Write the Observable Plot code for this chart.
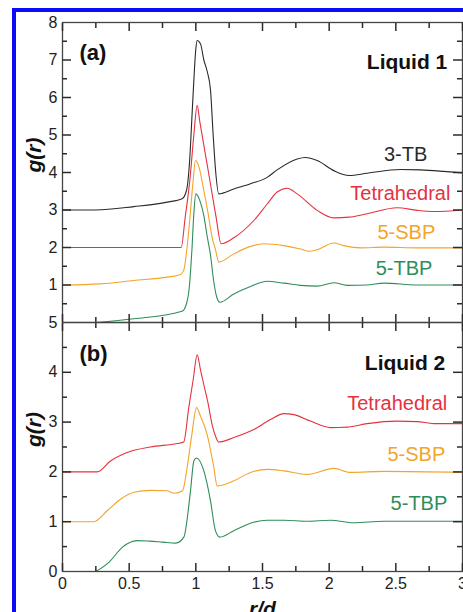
<!DOCTYPE html>
<html><head><meta charset="utf-8">
<script src="https://cdn.jsdelivr.net/npm/d3@7"></script>
<script src="https://cdn.jsdelivr.net/npm/@observablehq/plot@0.6"></script>
<style>
html,body{margin:0;padding:0;background:#fff}
#wrap{position:relative;width:463px;height:612px;overflow:hidden;background:#fff}
#wrap svg{position:absolute;left:0}
#blue{position:absolute;left:12px;top:8px;width:470px;height:620px;border-left:4px solid #0b0bf5;border-top:4px solid #0b0bf5;pointer-events:none}
</style></head><body><div id="wrap"></div>
<script>
// ---- tick values ----
const xTickLabels = [0, 0.5, 1, 1.5, 2, 2.5, 3];
const xMinorTicks = [0.25, 0.75, 1.25, 1.75, 2.25, 2.75];
const yTickLabelsA = [1, 2, 3, 4, 5, 6, 7, 8];
const yMajorA = [1, 2, 3, 4, 5, 6, 7];
const yMinorA = [0.5, 1.5, 2.5, 3.5, 4.5, 5.5, 6.5, 7.5];
const yTickLabelsB = [0, 1, 2, 3, 4, 5];
const yMajorB = [1, 2, 3, 4];
const yMinorB = [0.5, 1.5, 2.5, 3.5, 4.5];
const seriesNames = ["3-TB", "Tetrahedral", "5-SBP", "5-TBP"];

// ---- Panel (a): Liquid 1 ----
const a3tbR = [0, 0.25, 0.535, 0.785, 0.897, 0.93, 0.955, 0.972, 0.985, 1.0, 1.01, 1.035, 1.06, 1.085, 1.11, 1.13, 1.147, 1.172, 1.285, 1.41, 1.535, 1.61, 1.76, 1.82, 1.91, 2.035, 2.15, 2.285, 2.535, 2.685, 2.86, 3.0];
const a3tbG = [3.0, 3.0, 3.09, 3.21, 3.3, 3.52, 4.4, 5.57, 6.45, 7.3, 7.52, 7.43, 7.0, 6.7, 6.2, 5.0, 4.1, 3.43, 3.56, 3.7, 3.87, 4.07, 4.36, 4.40, 4.32, 4.05, 3.92, 3.98, 4.08, 4.07, 4.03, 3.99];
const aTetR = [0, 0.89, 0.92, 0.955, 0.985, 1.01, 1.03, 1.10, 1.15, 1.19, 1.285, 1.435, 1.535, 1.61, 1.685, 1.76, 1.91, 2.035, 2.15, 2.285, 2.51, 2.66, 2.785, 3.0];
const aTetG = [2.0, 2.0, 2.8, 3.79, 5.0, 5.79, 5.35, 3.9, 2.85, 2.1, 2.26, 2.72, 3.16, 3.48, 3.58, 3.43, 2.99, 2.79, 2.81, 2.9, 3.06, 2.99, 2.96, 3.0];
const aSbpR = [0, 0.285, 0.535, 0.785, 0.885, 0.909, 0.947, 0.98, 0.997, 1.02, 1.06, 1.09, 1.122, 1.147, 1.172, 1.285, 1.41, 1.51, 1.66, 1.785, 1.85, 1.91, 2.035, 2.11, 2.235, 2.41, 2.66, 3.0];
const aSbpG = [1.0, 1.03, 1.12, 1.21, 1.28, 1.39, 2.45, 3.79, 4.32, 4.19, 3.52, 2.95, 2.27, 1.95, 1.61, 1.83, 2.03, 2.1, 2.05, 1.96, 1.9, 1.94, 2.12, 2.05, 1.99, 2.01, 1.99, 1.99];
const aTbpR = [0.25, 0.535, 0.897, 0.93, 0.95, 0.97, 0.985, 1.0, 1.03, 1.06, 1.085, 1.11, 1.134, 1.155, 1.18, 1.285, 1.41, 1.535, 1.66, 1.785, 1.91, 2.035, 2.135, 2.285, 2.41, 2.66, 3.0];
const aTbpG = [0, 0.1, 0.3, 0.5, 0.9, 1.9, 2.9, 3.43, 3.25, 2.85, 2.3, 1.8, 1.1, 0.7, 0.54, 0.76, 0.96, 1.1, 1.05, 0.99, 0.97, 1.06, 0.99, 1.0, 1.05, 1.0, 1.0];

// ---- Panel (b): Liquid 2 ----
const bTetR = [0, 0.26, 0.36, 0.485, 0.66, 0.86, 0.909, 0.947, 0.98, 1.01, 1.035, 1.06, 1.09, 1.122, 1.15, 1.172, 1.285, 1.435, 1.56, 1.66, 1.735, 1.86, 2.01, 2.135, 2.285, 2.51, 2.66, 2.785, 3.0];
const bTetG = [2.0, 2.0, 2.22, 2.39, 2.5, 2.57, 2.6, 3.29, 3.85, 4.35, 4.05, 3.75, 3.4, 2.95, 2.7, 2.6, 2.69, 2.85, 3.05, 3.17, 3.15, 3.02, 2.89, 2.9, 2.97, 3.02, 3.01, 2.97, 2.97];
const bSbpR = [0, 0.235, 0.335, 0.435, 0.535, 0.66, 0.785, 0.835, 0.9, 0.935, 0.97, 1.005, 1.035, 1.085, 1.135, 1.16, 1.285, 1.41, 1.535, 1.66, 1.835, 2.035, 2.16, 2.41, 3.0];
const bSbpG = [1.0, 1.0, 1.22, 1.45, 1.59, 1.63, 1.62, 1.57, 1.62, 2.09, 2.75, 3.29, 3.12, 2.75, 2.09, 1.72, 1.82, 1.99, 2.05, 2.02, 1.95, 2.07, 1.99, 2.01, 1.99];
const bTbpR = [0.25, 0.35, 0.45, 0.56, 0.65, 0.75, 0.85, 0.91, 0.96, 0.985, 1.005, 1.06, 1.11, 1.147, 1.18, 1.285, 1.435, 1.535, 1.66, 1.835, 2.01, 2.185, 2.41, 3.0];
const bTbpG = [0, 0.19, 0.49, 0.62, 0.61, 0.59, 0.57, 0.69, 1.62, 2.22, 2.28, 2.02, 1.42, 0.82, 0.69, 0.82, 0.99, 1.03, 1.03, 1.01, 1.03, 0.98, 1.01, 1.01];

const rows = (s, R, G) => R.map((r, i) => ({r, g: G[i], s}));
const dataA = [...rows("3-TB", a3tbR, a3tbG), ...rows("Tetrahedral", aTetR, aTetG), ...rows("5-SBP", aSbpR, aSbpG), ...rows("5-TBP", aTbpR, aTbpG)];
const dataB = [...rows("Tetrahedral", bTetR, bTetG), ...rows("5-SBP", bSbpR, bSbpG), ...rows("5-TBP", bTbpR, bTbpG)];

const palette = ["#2a2a2a", "#e5323f", "#f4a42a", "#2f8d5a"];
const FONT = "'Liberation Sans', Arial, Helvetica, sans-serif";
const W = 463, ML = 62, MR = 1;
const PW = W - ML - MR;
const AX = "#444";
const fmt = d => String(d);

// inward ticks on the four sides of a panel
function tickMarks(yMaj, yMin, PH) {
  const o = {stroke: "#2b2b2b", strokeWidth: 1.5};
  const ax = {...o, text: null, label: null};
  return [
    Plot.axisX(xTickLabels, {...ax, anchor: "top", tickSize: -8}),
    Plot.axisX(xMinorTicks, {...ax, anchor: "top", tickSize: -5}),
    Plot.axisY(yMaj, {...ax, anchor: "left", tickSize: -9}),
    Plot.axisY(yMin, {...ax, anchor: "left", tickSize: -5}),
    Plot.ruleX(xTickLabels, {...o, insetTop: PH - 8}),
    Plot.ruleX(xMinorTicks, {...o, insetTop: PH - 5}),
    Plot.ruleY(yMaj, {...o, insetLeft: PW - 9}),
    Plot.ruleY(yMin, {...o, insetLeft: PW - 5})
  ];
}
const lineOpts = {x: "r", y: "g", stroke: "s", curve: "monotone-x", strokeWidth: 1.1};
const bold = {fontWeight: "bold", fill: "#111", fontSize: 21};

// Panel (a)
const plotA = Plot.plot({
  width: W, height: 330, marginLeft: ML, marginRight: MR, marginTop: 22, marginBottom: 8,
  style: {fontFamily: FONT, background: "transparent", overflow: "visible"},
  x: {domain: [0, 3]},
  y: {domain: [0, 8]},
  color: {domain: seriesNames, range: palette},
  marks: [
    Plot.axisY(yTickLabelsA, {tickSize: 0, tickPadding: 5, fontSize: 16, fill: "#222", label: null, tickFormat: fmt}),
    Plot.line(dataA, lineOpts),
    Plot.frame({stroke: AX, strokeWidth: 1.3}),
    ...tickMarks(yMajorA, yMinorA, 300),
    Plot.text(["(a)"], {x: 0.127, y: 7.2, textAnchor: "start", ...bold, fontSize: 22}),
    Plot.text(["Liquid 1"], {x: 2.886, y: 6.93, textAnchor: "end", ...bold}),
    Plot.text(["3-TB"], {x: 2.736, y: 4.48, textAnchor: "end", fontSize: 20, fill: palette[0]}),
    Plot.text(["Tetrahedral"], {x: 2.909, y: 3.44, textAnchor: "end", fontSize: 20, fill: palette[1]}),
    Plot.text(["5-SBP"], {x: 2.796, y: 2.4, textAnchor: "end", fontSize: 20, fill: palette[2]}),
    Plot.text(["5-TBP"], {x: 2.774, y: 1.44, textAnchor: "end", fontSize: 20, fill: palette[3]}),
    Plot.text(["g(r)"], {frameAnchor: "left", dx: -28, rotate: -90, fontSize: 21, fontWeight: "bold", fontStyle: "italic", fill: "#111"})
  ]
});
plotA.style.top = "0px";

// Panel (b)
const plotB = Plot.plot({
  width: W, height: 298, marginLeft: ML, marginRight: MR, marginTop: 8, marginBottom: 41,
  style: {fontFamily: FONT, background: "transparent", overflow: "visible"},
  x: {domain: [0, 3]},
  y: {domain: [0, 5]},
  color: {domain: seriesNames, range: palette},
  marks: [
    Plot.axisY(yTickLabelsB, {tickSize: 0, tickPadding: 5, fontSize: 16, fill: "#222", label: null, tickFormat: fmt}),
    Plot.axisX(xTickLabels, {tickSize: 0, tickPadding: 6, fontSize: 16, fill: "#222", label: null, tickFormat: fmt}),
    Plot.line(dataB, lineOpts),
    Plot.frame({stroke: AX, strokeWidth: 1.3}),
    ...tickMarks(yMajorB, yMinorB, 249),
    Plot.text(["(b)"], {x: 0.127, y: 4.36, textAnchor: "start", ...bold, fontSize: 22}),
    Plot.text(["Liquid 2"], {x: 2.871, y: 4.18, textAnchor: "end", ...bold}),
    Plot.text(["Tetrahedral"], {x: 2.886, y: 3.38, textAnchor: "end", fontSize: 20, fill: palette[1]}),
    Plot.text(["5-SBP"], {x: 2.871, y: 2.34, textAnchor: "end", fontSize: 20, fill: palette[2]}),
    Plot.text(["5-TBP"], {x: 2.886, y: 1.36, textAnchor: "end", fontSize: 20, fill: palette[3]}),
    Plot.text(["g(r)"], {frameAnchor: "left", dx: -28, rotate: -90, fontSize: 21, fontWeight: "bold", fontStyle: "italic", fill: "#111"}),
    Plot.text(["r/d"], {x: 1.5, frameAnchor: "bottom", lineAnchor: "bottom", dy: 44, fontSize: 21, fontWeight: "bold", fontStyle: "italic", fill: "#111"})
  ]
});
plotB.style.top = "314px";

const wrap = document.getElementById("wrap");
wrap.appendChild(plotA);
wrap.appendChild(plotB);
const blue = document.createElement("div");
blue.id = "blue";
wrap.appendChild(blue);
</script>
</body></html>
